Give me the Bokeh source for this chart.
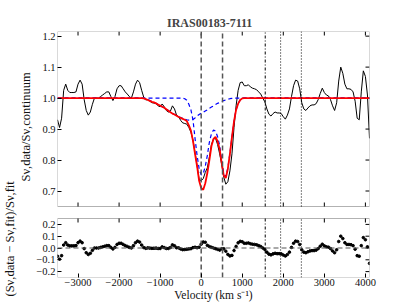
import numpy as np
from bokeh.plotting import figure
from bokeh.models import Range1d, LinearAxis, FixedTicker, BoxAnnotation, Span, Title
from bokeh.embed import file_html
from bokeh.resources import INLINE

# ---------------- data ----------------
TITLE = "IRAS00183-7111"
VEL = np.arange(-3500, 4101, 50)  # velocity grid (km/s)

FLUX = [
    0.93, 0.905, 0.935, 1.025, 1.045, 1.025, 1.018, 1.018, 1.018, 1.02,
    1.045, 1.058, 1.045, 0.995, 0.96, 0.945, 0.955, 0.98, 1.0, 1.0,
    1.0, 1.005, 1.01, 1.015, 1.02, 1.02, 1.005, 0.992, 1.005, 1.03,
    1.04, 1.04, 1.03, 1.02, 1.013, 1.005, 1.0, 1.02, 1.045, 1.058,
    1.05, 1.025, 1.003, 0.994, 0.995, 0.99, 0.985, 0.984, 0.982, 0.975,
    0.972, 0.981, 0.972, 0.96, 0.955, 0.958, 0.975, 0.965, 0.945, 0.94,
    0.928, 0.92, 0.918, 0.916, 0.905, 0.89, 0.865, 0.825, 0.782, 0.738,
    0.733, 0.74, 0.76, 0.775, 0.81, 0.85, 0.868, 0.87, 0.85, 0.82,
    0.785, 0.745, 0.722, 0.73, 0.765, 0.82, 0.905, 0.975, 1.025, 1.05,
    1.052, 1.04, 1.04, 1.043, 1.036, 1.032, 1.03, 1.027, 1.02, 1.013,
    1.0, 0.988, 0.965, 0.948, 0.942, 0.95, 0.955, 0.952, 0.952, 0.95,
    0.94, 0.932, 0.945, 0.965, 1.005, 1.04, 1.058, 1.055, 1.03, 0.985,
    0.965, 0.96, 0.968, 0.975, 0.978, 0.978, 0.982, 0.995, 1.015, 1.032,
    1.018, 1.01, 1.007, 0.995, 0.975, 0.96, 0.985, 1.055, 1.1, 1.08,
    1.045, 1.03, 1.03, 1.028, 1.02, 0.99, 0.935, 0.93, 1.02, 1.088,
    1.07, 1.01, 0.87,
]

FIT = [
    1.0, 1.0, 1.0, 1.0, 1.0, 1.0, 1.0, 1.0, 1.0, 1.0,
    1.0, 1.0, 1.0, 1.0, 1.0, 1.0, 1.0, 1.0, 1.0, 1.0,
    1.0, 1.0, 1.0, 1.0, 1.0, 1.0, 1.0, 1.0, 1.0, 1.0,
    1.0, 1.0, 1.0, 1.0, 1.0, 1.0, 1.0, 1.0, 1.0, 1.0,
    1.0, 1.0, 0.999, 0.997, 0.994, 0.991, 0.988, 0.986, 0.983, 0.979,
    0.976, 0.972, 0.969, 0.964, 0.959, 0.954, 0.95, 0.947, 0.943, 0.939,
    0.936, 0.933, 0.93, 0.926, 0.912, 0.895, 0.862, 0.82, 0.78, 0.733,
    0.71, 0.704, 0.725, 0.758, 0.80, 0.845, 0.868, 0.875, 0.86, 0.835,
    0.79, 0.75, 0.742, 0.772, 0.82, 0.875, 0.925, 0.962, 0.982, 0.994,
    0.999, 1.0, 1.0, 1.0, 1.0, 1.0, 1.0, 1.0, 1.0, 1.0,
    1.0, 1.0, 1.0, 1.0, 1.0, 1.0, 1.0, 1.0, 1.0, 1.0,
    1.0, 1.0, 1.0, 1.0, 1.0, 1.0, 1.0, 1.0, 1.0, 1.0,
    1.0, 1.0, 1.0, 1.0, 1.0, 1.0, 1.0, 1.0, 1.0, 1.0,
    1.0, 1.0, 1.0, 1.0, 1.0, 1.0, 1.0, 1.0, 1.0, 1.0,
    1.0, 1.0, 1.0, 1.0, 1.0, 1.0, 1.0, 1.0, 1.0, 1.0,
    1.0, 1.0, 1.0,
]

BROAD = [
    1.0, 1.0, 1.0, 1.0, 1.0, 1.0, 1.0, 1.0, 1.0, 1.0,
    1.0, 1.0, 1.0, 1.0, 1.0, 1.0, 1.0, 1.0, 1.0, 1.0,
    1.0, 1.0, 1.0, 1.0, 1.0, 1.0, 1.0, 1.0, 1.0, 1.0,
    1.0, 1.0, 1.0, 1.0, 1.0, 1.0, 1.0, 1.0, 1.0, 1.0,
    1.0, 1.0, 0.999, 0.997, 0.995, 0.992, 0.989, 0.986, 0.983, 0.979,
    0.976, 0.972, 0.969, 0.965, 0.960, 0.955, 0.951, 0.947, 0.944, 0.940,
    0.937, 0.935, 0.932, 0.930, 0.929, 0.929, 0.931, 0.936, 0.942, 0.947,
    0.951, 0.954, 0.958, 0.962, 0.967, 0.971, 0.975, 0.979, 0.983, 0.986,
    0.989, 0.992, 0.994, 0.996, 0.998, 0.999, 1.0, 1.0, 1.0, 1.0,
    1.0, 1.0, 1.0, 1.0, 1.0, 1.0, 1.0, 1.0, 1.0, 1.0,
    1.0, 1.0, 1.0, 1.0, 1.0, 1.0, 1.0, 1.0, 1.0, 1.0,
    1.0, 1.0, 1.0, 1.0, 1.0, 1.0, 1.0, 1.0, 1.0, 1.0,
    1.0, 1.0, 1.0, 1.0, 1.0, 1.0, 1.0, 1.0, 1.0, 1.0,
    1.0, 1.0, 1.0, 1.0, 1.0, 1.0, 1.0, 1.0, 1.0, 1.0,
    1.0, 1.0, 1.0, 1.0, 1.0, 1.0, 1.0, 1.0, 1.0, 1.0,
    1.0, 1.0, 1.0,
]

NARROW = [
    1.0, 1.0, 1.0, 1.0, 1.0, 1.0, 1.0, 1.0, 1.0, 1.0,
    1.0, 1.0, 1.0, 1.0, 1.0, 1.0, 1.0, 1.0, 1.0, 1.0,
    1.0, 1.0, 1.0, 1.0, 1.0, 1.0, 1.0, 1.0, 1.0, 1.0,
    1.0, 1.0, 1.0, 1.0, 1.0, 1.0, 1.0, 1.0, 1.0, 1.0,
    1.0, 1.0, 1.0, 1.0, 1.0, 1.0, 1.0, 1.0, 1.0, 1.0,
    1.0, 1.0, 1.0, 1.0, 1.0, 1.0, 1.0, 1.0, 1.0, 1.0,
    1.0, 1.0, 0.998, 0.993, 0.98, 0.962, 0.93, 0.87, 0.815, 0.772,
    0.752, 0.756, 0.78, 0.815, 0.858, 0.885, 0.897, 0.893, 0.875, 0.847,
    0.799, 0.756, 0.746, 0.775, 0.822, 0.876, 0.925, 0.962, 0.982, 0.994,
    0.999, 1.0, 1.0, 1.0, 1.0, 1.0, 1.0, 1.0, 1.0, 1.0,
    1.0, 1.0, 1.0, 1.0, 1.0, 1.0, 1.0, 1.0, 1.0, 1.0,
    1.0, 1.0, 1.0, 1.0, 1.0, 1.0, 1.0, 1.0, 1.0, 1.0,
    1.0, 1.0, 1.0, 1.0, 1.0, 1.0, 1.0, 1.0, 1.0, 1.0,
    1.0, 1.0, 1.0, 1.0, 1.0, 1.0, 1.0, 1.0, 1.0, 1.0,
    1.0, 1.0, 1.0, 1.0, 1.0, 1.0, 1.0, 1.0, 1.0, 1.0,
    1.0, 1.0, 1.0,
]

LINES_DASHED = [0, 520]
LINES_DASHDOT = [1560]
LINES_DOTTED = [1935, 2440]

XLIM = (-3500, 4100)
TOP_YLIM = (0.65, 1.215)
RES_YLIM = (-0.25, 0.25)
XTICKS = [-3000, -2000, -1000, 0, 1000, 2000, 3000, 4000]
TOP_YTICKS = [0.7, 0.8, 0.9, 1.0, 1.1, 1.2]
RES_YTICKS = [-0.2, -0.1, 0.0, 0.1, 0.2]

X_LABEL = "Velocity (km s\u207b\u00b9)"
TOP_Y_LABEL = "S\u03bd,data/S\u03bd,continuum"
RES_Y_LABEL = "(S\u03bd,data \u2212 S\u03bd,fit)/S\u03bd,fit"

flux = np.array(FLUX)
fit = np.array(FIT)
RES = (flux - fit) / fit

# ---------------- layout ----------------
W, H = 411, 308
BL, BR, BT, BB = 52, 42, 31, 31
TOP_H, GAP, RES_H = 175, 12, 59
FRAME_H = TOP_H + GAP + RES_H
FONT = "Liberation Serif"
TICK_LEN = 4
TITLE_LEN = 87          # estimated title width (px)
TITLE_CX = 205          # title centre on canvas (px)
TOP_LABEL_OFFSET = 96   # y-label start, measured up from the frame bottom (px)
RES_LABEL_OFFSET = -19

top_pp = (TOP_YLIM[1] - TOP_YLIM[0]) / TOP_H
y_range = Range1d(TOP_YLIM[0] - (GAP + RES_H) * top_pp, TOP_YLIM[1])
res_pp = (RES_YLIM[1] - RES_YLIM[0]) / RES_H
res_range = Range1d(RES_YLIM[0], RES_YLIM[1] + (GAP + TOP_H) * res_pp)


def res_to_top(r):
    return y_range.start + (r - res_range.start) * (y_range.end - y_range.start) / (res_range.end - res_range.start)


def fmt(v, nd):
    s = f"{abs(v):.{nd}f}"
    return ("\u2212" if v < 0 else "") + s


p = figure(width=W, height=H, x_range=Range1d(*XLIM), y_range=y_range,
           output_backend="svg", toolbar_location=None,
           x_axis_type=None, y_axis_type=None,
           min_border_left=BL, min_border_right=BR, min_border_top=BT, min_border_bottom=BB,
           outline_line_color=None)
p.extra_y_ranges = {"res": res_range}

p.title.text = TITLE
p.title.align = "left"
p.title.offset = TITLE_CX - TITLE_LEN / 2 - BL
p.title.vertical_align = "top"
p.title.text_font = FONT
p.title.text_font_size = "12px"
p.title.text_font_style = "bold"
p.title.standoff = 0


def base_axis(ax):
    ax.major_tick_in = TICK_LEN
    ax.major_tick_out = 0
    ax.minor_tick_line_color = None
    ax.axis_line_color = None
    ax.major_tick_line_color = "black"
    ax.major_label_text_font = FONT
    ax.major_label_text_color = "#111111"
    ax.major_label_text_font_size = "10.5px"
    ax.major_label_standoff = 2
    ax.axis_label_text_font = FONT
    ax.axis_label_text_font_size = "11.5px"
    ax.axis_label_text_font_style = "normal"
    ax.axis_label_text_color = "#111111"


xb = LinearAxis(ticker=FixedTicker(ticks=XTICKS),
                major_label_overrides={t: fmt(t, 0) for t in XTICKS})
base_axis(xb)
xb.axis_label = X_LABEL
xb.axis_label_standoff = 0
xb.major_label_standoff = 1
p.add_layout(xb, "below")

res_tick_pos = [res_to_top(r) for r in RES_YTICKS]
overrides = {t: fmt(t, 1) for t in TOP_YTICKS}
overrides.update({pos: fmt(r, 1) for pos, r in zip(res_tick_pos, RES_YTICKS)})
yl = LinearAxis(ticker=FixedTicker(ticks=TOP_YTICKS + res_tick_pos),
                major_label_overrides=overrides)
base_axis(yl)
p.add_layout(yl, "left")

# panel y-axis titles, each placed along its own panel
p.add_layout(Title(text=TOP_Y_LABEL, align="left", offset=TOP_LABEL_OFFSET,
                   text_font=FONT, text_font_size="12.5px", text_font_style="normal",
                   text_color="#111111", standoff=1), "left")
p.add_layout(Title(text=RES_Y_LABEL, align="left", offset=RES_LABEL_OFFSET,
                   text_font=FONT, text_font_size="12.5px", text_font_style="normal",
                   text_color="#111111", standoff=0), "left")

# inward ticks on the remaining panel edges
tick_kw = dict(length=TICK_LEN, length_units="screen", line_color="black", line_width=1)
p.ray(x=XTICKS, y=TOP_YLIM[1], angle=-np.pi / 2, **tick_kw)
p.ray(x=XTICKS, y=TOP_YLIM[0], angle=np.pi / 2, **tick_kw)
p.ray(x=XTICKS, y=RES_YLIM[1], angle=-np.pi / 2, y_range_name="res", **tick_kw)
p.ray(x=XLIM[1], y=TOP_YTICKS, angle=np.pi, **tick_kw)
p.ray(x=XLIM[1], y=RES_YTICKS, angle=np.pi, y_range_name="res", **tick_kw)

# ---------------- top panel ----------------
p.line(VEL, FLUX, line_color="black", line_width=1)
p.line(VEL, BROAD, line_color="blue", line_width=1.2, line_dash="4 3")
p.line(VEL, NARROW, line_color="blue", line_width=1.2, line_dash="4 3")
p.line(VEL, FIT, line_color="red", line_width=1.8)

# ---------------- residual panel ----------------
p.add_layout(Span(location=0, dimension="width", y_range_name="res",
                  line_color="#555555", line_width=1.2, line_dash="5 3"))
p.scatter(VEL, RES, size=2.6, color="black", y_range_name="res")

# ---------------- vertical marker lines ----------------
for rng, lims in ((None, TOP_YLIM), ("res", RES_YLIM)):
    kw = {} if rng is None else {"y_range_name": rng}
    p.segment(x0=LINES_DASHED, y0=lims[0], x1=LINES_DASHED, y1=lims[1],
              line_color="#555555", line_width=1.5, line_dash="5 3", **kw)
    p.segment(x0=LINES_DASHDOT, y0=lims[0], x1=LINES_DASHDOT, y1=lims[1],
              line_color="black", line_width=1, line_dash="3 2 1 2", **kw)
    p.segment(x0=LINES_DOTTED, y0=lims[0], x1=LINES_DOTTED, y1=lims[1],
              line_color="black", line_width=1, line_dash="1 2", **kw)

# ---------------- panel frames ----------------
p.add_layout(BoxAnnotation(left=XLIM[0], right=XLIM[1], bottom=TOP_YLIM[0], top=TOP_YLIM[1],
                           fill_color=None, line_color="black", line_width=1))
p.add_layout(BoxAnnotation(left=XLIM[0], right=XLIM[1], bottom=RES_YLIM[0], top=RES_YLIM[1],
                           fill_color=None, line_color="black", line_width=1, y_range_name="res"))

open("out.html", "w").write(file_html(p, INLINE))
